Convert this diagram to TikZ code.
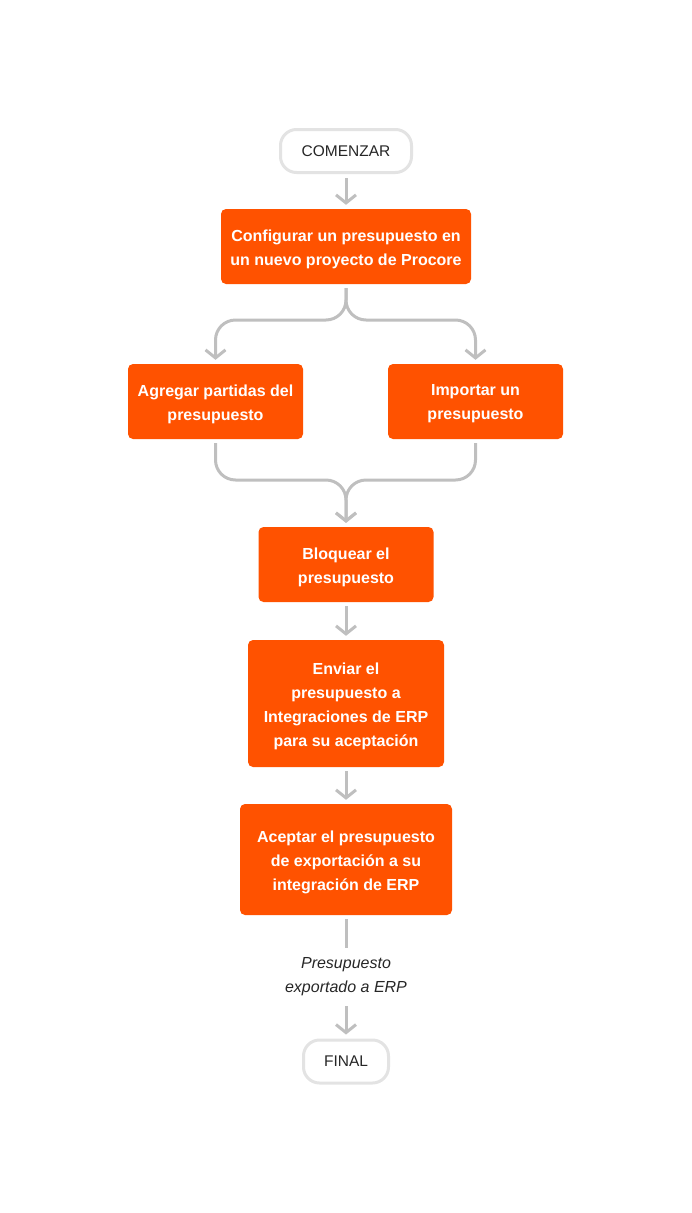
\documentclass[tikz,border=0pt]{standalone}
\usepackage{fontspec}
\setmainfont{Liberation Sans}
\usetikzlibrary{arrows.meta}
\definecolor{proc}{HTML}{FF5200}
\definecolor{conn}{HTML}{BFBFBF}
\definecolor{term}{HTML}{E3E3E3}
\definecolor{txt}{HTML}{262626}
\tikzset{
  stepbox/.style={fill=proc, rounded corners=5pt, inner sep=0pt},
  steptext/.style={text=white, font=\fontsize{16}{24}\selectfont\bfseries, align=center, inner sep=0pt},
  termbox/.style={draw=term, line width=3pt, fill=white, rounded corners=16pt, text=txt, font=\fontsize{15.5}{18}\selectfont, inner sep=0pt},
  flow/.style={draw=conn, line width=3pt, -{Straight Barb[length=8pt,width=20pt,line width=3pt]}, shorten <=4pt, shorten >=4pt},
  plain/.style={draw=conn, line width=3pt, shorten <=4pt, shorten >=4pt},
}
\begin{document}
\begin{tikzpicture}[x=1pt,y=1pt]
\useasboundingbox (0,0) rectangle (692,-1213);
\node[termbox, minimum width=131pt, minimum height=43pt] (start) at (346,-151) {COMENZAR};
\node[stepbox, minimum width=250pt, minimum height=75pt] (b1) at (346,-246.5) {};
\node[steptext] (t1) at ([yshift=-2.5pt]b1.center) {Configurar un presupuesto en\\un nuevo proyecto de Procore};
\node[stepbox, minimum width=175pt, minimum height=75pt] (b2) at (215.5,-401.5) {};
\node[steptext] (t2) at ([yshift=-2.5pt]b2.center) {Agregar partidas del\\presupuesto};
\node[stepbox, minimum width=175pt, minimum height=75pt] (b3) at (475.5,-401.5) {};
\node[steptext] (t3) at ([yshift=-2.5pt]b3.center) {Importar un\\presupuesto};
\node[stepbox, minimum width=175pt, minimum height=75pt] (b4) at (346,-564.5) {};
\node[steptext] (t4) at ([yshift=-2.5pt]b4.center) {Bloquear el\\presupuesto};
\node[stepbox, minimum width=196pt, minimum height=127pt] (b5) at (346,-703.5) {};
\node[steptext] (t5) at ([yshift=-2.5pt]b5.center) {Enviar el\\presupuesto a\\Integraciones de ERP\\para su aceptación};
\node[stepbox, minimum width=212pt, minimum height=111pt] (b6) at (346,-859.5) {};
\node[steptext] (t6) at ([yshift=-2.5pt]b6.center) {Aceptar el presupuesto\\de exportación a su\\integración de ERP};
\node[font=\fontsize{16}{24}\selectfont\itshape, text=txt, align=center, inner sep=0pt, minimum height=50pt] (lab) at (346,-977) {Presupuesto\\exportado a ERP};
\node[termbox, minimum width=85pt, minimum height=43pt] (fin) at (346,-1061.5) {FINAL};
\coordinate (sp) at (346,-320);
\coordinate (mg) at (346,-480);
\draw[flow] (start) -- (b1);
\draw[flow, rounded corners=20pt] (b1.south) -- (sp) -| (b2.north);
\draw[flow, rounded corners=20pt] (b1.south) -- (sp) -| (b3.north);
\draw[flow, rounded corners=20pt] (b2.south) |- (mg) -- (b4.north);
\draw[flow, rounded corners=20pt] (b3.south) |- (mg) -- (b4.north);
\draw[flow] (b4) -- (b5);
\draw[flow] (b5) -- (b6);
\draw[plain] (b6) -- (lab);
\draw[flow] (lab) -- (fin);
\end{tikzpicture}
\end{document}
